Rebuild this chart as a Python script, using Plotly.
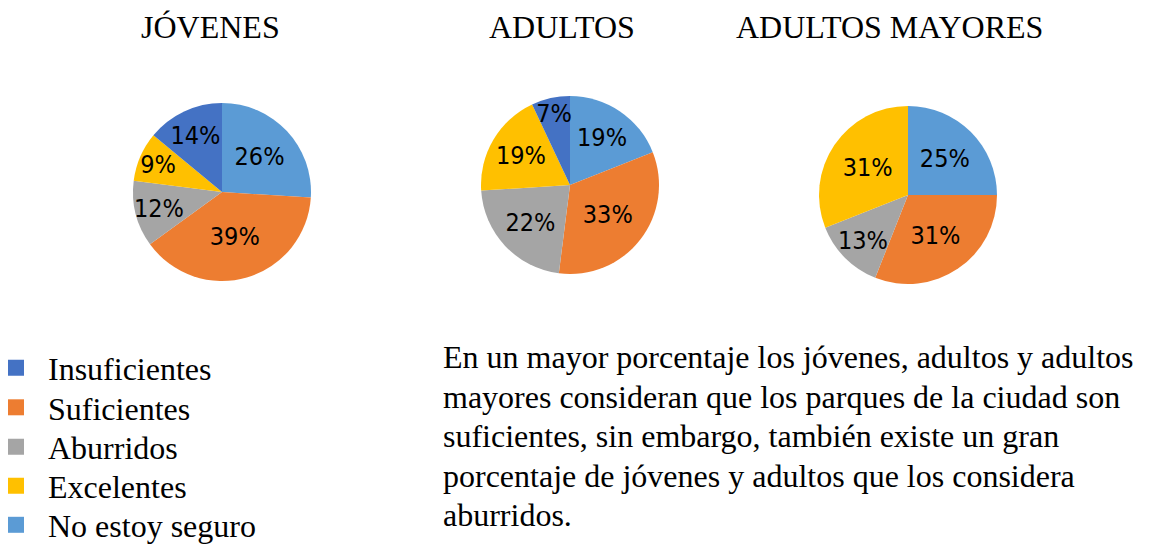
import plotly.graph_objects as go

# Data
categories = ["Insuficientes", "Suficientes", "Aburridos", "Excelentes", "No estoy seguro"]
colors = ["#4472C4", "#ED7D31", "#A5A5A5", "#FFC000", "#5B9BD5"]
jovenes = [14, 39, 12, 9, 26]
adultos = [7, 33, 22, 19, 19]
adultos_mayores = [0, 31, 13, 31, 25]
titles = ["JÓVENES", "ADULTOS", "ADULTOS MAYORES"]
paragraph_lines = [
    "En un mayor porcentaje los jóvenes, adultos y adultos",
    "mayores consideran que los parques de la ciudad son",
    "suficientes, sin embargo, también existe un gran",
    "porcentaje de jóvenes y adultos que los considera",
    "aburridos.",
]

# Slice order drawn clockwise from 12 o'clock
pie_order = [4, 1, 2, 3, 0]

W, H = 1161, 546

def dom(cx, cy, d):
    return dict(x=[(cx - d / 2) / W, (cx + d / 2) / W],
                y=[1 - (cy + d / 2) / H, 1 - (cy - d / 2) / H])

pie_font = dict(family="Liberation Sans Narrow, DejaVu Sans Condensed, sans-serif", size=25, color="black")
serif = "Liberation Serif, Times New Roman, serif"

fig = go.Figure()
centers = [(222, 192), (570, 185), (908, 195)]
for vals, (cx, cy) in zip([jovenes, adultos, adultos_mayores], centers):
    labs = [categories[i] for i in pie_order]
    v = [vals[i] for i in pie_order]
    cols = [colors[i] for i in pie_order]
    fig.add_trace(go.Pie(
        labels=labs, values=v, sort=False, direction="clockwise", rotation=0,
        marker=dict(colors=cols, line=dict(width=0)),
        texttemplate=["%{value}%" if x > 0 else "" for x in v],
        textposition="inside", insidetextorientation="horizontal",
        textfont=pie_font, showlegend=False, domain=dom(cx, cy, 178),
        hoverinfo="label+value",
    ))

# Legend entries in original order, one legend box per entry
legend_y = [368, 407.5, 447, 486, 525]
layout_legends = {}
for i, (cat, col) in enumerate(zip(categories, colors)):
    lname = "legend" if i == 0 else f"legend{i + 1}"
    fig.add_trace(go.Scatter(
        x=[None], y=[None], mode="markers", name=cat,
        marker=dict(symbol="square", size=16, color=col),
        showlegend=True, legend=lname,
    ))
    layout_legends[lname] = dict(
        x=-16 / W, y=1 - legend_y[i] / H, xanchor="left", yanchor="middle",
        font=dict(family=serif, size=32, color="black"),
        itemwidth=54, itemsizing="trace", bgcolor="rgba(0,0,0,0)", borderwidth=0,
    )

annotations = []
title_x = [210, 562, 889]
for t, tx in zip(titles, title_x):
    annotations.append(dict(text=t, x=tx / W, y=1 - 27 / H, xref="paper", yref="paper",
                            showarrow=False, xanchor="center", yanchor="middle",
                            font=dict(family=serif, size=32, color="black")))

line_y = [357, 396.5, 436, 475.5, 515]
for line, ly in zip(paragraph_lines, line_y):
    annotations.append(dict(text=line, x=441 / W, y=1 - ly / H, xref="paper", yref="paper",
                            showarrow=False, xanchor="left", yanchor="middle",
                            font=dict(family=serif, size=32, color="black")))

fig.update_layout(
    width=W, height=H,
    margin=dict(l=0, r=0, t=0, b=0, autoexpand=False),
    paper_bgcolor="white", plot_bgcolor="white",
    xaxis=dict(visible=False), yaxis=dict(visible=False),
    annotations=annotations,
    uniformtext=dict(minsize=25, mode="show"),
    **layout_legends,
)

fig.write_html("out.html", config={"displayModeBar": False},
               post_script="document.body.style.margin='0';document.body.style.overflow='hidden';")
